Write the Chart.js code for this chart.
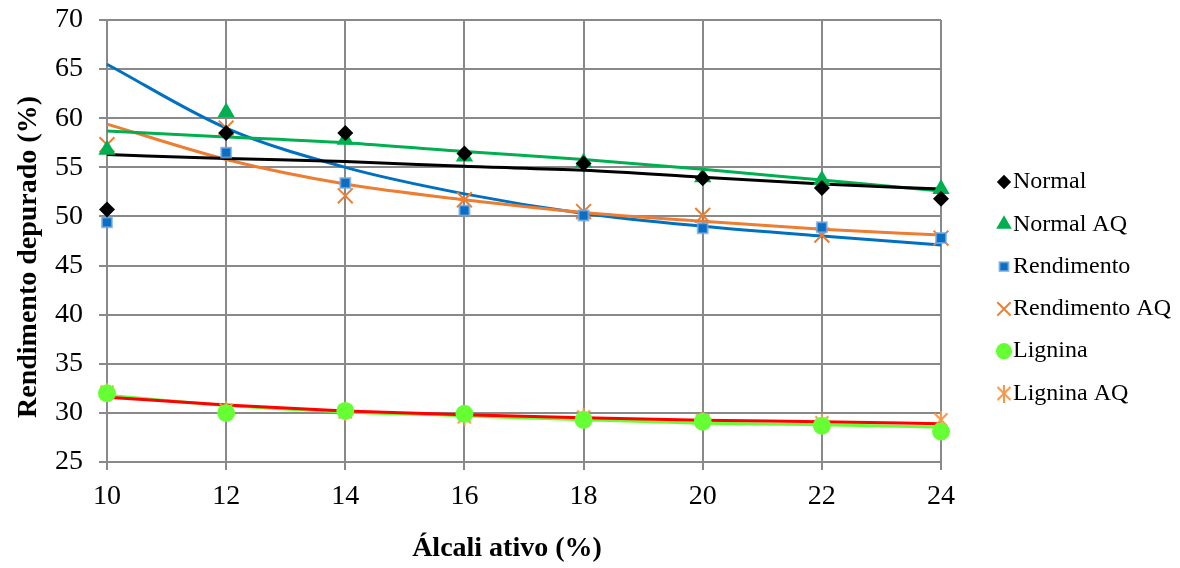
<!DOCTYPE html>
<html>
<head>
<meta charset="utf-8">
<script src="https://cdn.jsdelivr.net/npm/chart.js@4.4.0/dist/chart.umd.min.js"></script>
<style>
  html, body { margin: 0; padding: 0; background: #fff; }
</style>
</head>
<body>
<canvas id="rendChart" width="1180" height="568"></canvas>
<script>
// Álcali ativo (%) on the x axis
var alcali = [10, 12, 14, 16, 18, 20, 22, 24];

// measured points
var normal        = [50.7, 58.5, 58.5, 56.4, 55.4, 53.9, 52.9, 51.8];
var normalAQ      = [56.8, 60.6, 57.8, 56.1, 55.5, 54.0, 53.7, 52.8];
var rendimento    = [49.4, 56.5, 53.4, 50.6, 50.1, 48.8, 48.9, 47.8];
var rendimentoAQ  = [57.3, 59.0, 52.1, 51.7, 50.5, 50.1, 48.1, 47.8];
var lignina       = [32.0, 30.0, 30.2, 29.9, 29.3, 29.1, 28.7, 28.1];
var ligninaAQ     = [32.1, 30.3, 30.1, 29.6, 29.6, 29.2, 29.0, 29.3];

// trend lines, value at each x
var trendNormal       = [56.3, 55.9, 55.6, 55.1, 54.7, 54.0, 53.3, 52.8];
var trendNormalAQ     = [58.7, 58.1, 57.5, 56.6, 55.8, 54.8, 53.7, 52.6];
var trendRendimento   = [65.5, 59.0, 55.0, 52.3, 50.3, 49.0, 48.0, 47.1];
var trendRendimentoAQ = [59.4, 55.8, 53.3, 51.7, 50.4, 49.5, 48.7, 48.1];
var trendLignina      = [31.8, 30.75, 30.1, 29.7, 29.3, 28.95, 28.8, 28.55];
var trendLigninaAQ    = [31.6, 30.8, 30.2, 29.8, 29.5, 29.25, 29.1, 28.9];

var yTicks = { min: 25, max: 70, step: 5 };
var xTicks = { min: 10, max: 24, step: 2 };

var serif = "'Liberation Serif', 'Times New Roman', serif";
var gridColor = '#898989';

function pts(ys) {
  return alcali.map(function(x, i) { return { x: x, y: ys[i] }; });
}

// asterisk marker (X plus a vertical bar)
function asterisk(color) {
  var c = document.createElement('canvas');
  c.width = 18; c.height = 18;
  var g = c.getContext('2d');
  g.strokeStyle = color;
  g.lineWidth = 2;
  g.beginPath();
  g.moveTo(9, 0); g.lineTo(9, 18);
  g.moveTo(2.5, 2.5); g.lineTo(15.5, 15.5);
  g.moveTo(15.5, 2.5); g.lineTo(2.5, 15.5);
  g.stroke();
  return c;
}

function markers(label, ys, style, fill, stroke, radius, bw) {
  return {
    label: label,
    data: pts(ys),
    showLine: false,
    pointStyle: style,
    pointRadius: radius,
    pointHoverRadius: radius,
    pointBackgroundColor: fill,
    pointBorderColor: stroke,
    pointBorderWidth: bw,
    backgroundColor: fill,
    borderColor: stroke,
    clip: false,
    order: 0
  };
}

function trend(ys, color) {
  return {
    trend: true,
    data: pts(ys),
    showLine: true,
    borderColor: color,
    borderWidth: 3,
    pointRadius: 0,
    cubicInterpolationMode: 'monotone',
    clip: false,
    order: 1
  };
}

var datasets = [
  markers('Normal', normal, 'rectRot', '#000000', '#000000', 8, 0),
  markers('Normal AQ', normalAQ, 'triangle', '#00b050', '#00b050', 10, 0),
  markers('Rendimento', rendimento, 'rect', '#0a6fc2', 'rgba(120,170,225,0.75)', 7, 2),
  markers('Rendimento AQ', rendimentoAQ, 'crossRot', '#ed7d31', '#ed7d31', 10.5, 2),
  markers('Lignina', lignina, 'circle', '#66ff33', '#66ff33', 9, 0),
  markers('Lignina AQ', ligninaAQ, asterisk('#f79646'), '#f79646', '#f79646', 9, 0),
  trend(trendLigninaAQ, '#ff0000'),
  trend(trendLignina, '#66ff33'),
  trend(trendNormal, '#000000'),
  trend(trendNormalAQ, '#00b050'),
  trend(trendRendimentoAQ, '#ed7d31'),
  trend(trendRendimento, '#0070c0')
];

// legend on the right, drawn by hand
var sideLegend = {
  id: 'sideLegend',
  afterDraw: function(chart) {
    var ctx = chart.ctx;
    var y = 182;
    ctx.save();
    ctx.font = '24px ' + serif;
    ctx.textBaseline = 'middle';
    ctx.textAlign = 'left';
    chart.data.datasets.forEach(function(ds) {
      if (ds.trend) return;
      ctx.fillStyle = ds.pointBackgroundColor;
      ctx.strokeStyle = ds.pointBorderColor;
      ctx.lineWidth = ds.pointBorderWidth || 2;
      Chart.helpers.drawPoint(ctx, {
        pointStyle: ds.pointStyle,
        radius: ds.pointRadius * 0.9,
        borderWidth: ds.pointStyle === 'crossRot' ? 2 : ds.pointBorderWidth,
        rotation: 0
      }, 1004, y);
      ctx.fillStyle = '#000';
      ctx.fillText(ds.label, 1013, y);
      y += 42.3;
    });
    ctx.restore();
  }
};

// bold axis titles
var axisTitles = {
  id: 'axisTitles',
  afterDraw: function(chart) {
    var ctx = chart.ctx;
    ctx.save();
    ctx.font = 'bold 28px ' + serif;
    ctx.fillStyle = '#000';
    ctx.textAlign = 'center';
    ctx.textBaseline = 'middle';
    ctx.fillText('Álcali ativo (%)', 507, 549);
    ctx.translate(29, 257);
    ctx.rotate(-Math.PI / 2);
    ctx.fillText('Rendimento depurado (%)', 0, 0);
    ctx.restore();
  }
};

new Chart(document.getElementById('rendChart'), {
  type: 'scatter',
  data: { datasets: datasets },
  plugins: [sideLegend, axisTitles],
  options: {
    responsive: false,
    animation: false,
    layout: { padding: { left: 0, right: 239, top: 20, bottom: 0 } },
    plugins: {
      legend: { display: false },
      tooltip: { enabled: false }
    },
    scales: {
      x: {
        type: 'linear',
        min: xTicks.min,
        max: xTicks.max,
        ticks: { stepSize: xTicks.step, color: '#000', padding: 10, font: { family: serif, size: 28 } },
        grid: { color: gridColor, lineWidth: 2, tickLength: 8, tickColor: gridColor },
        border: { color: gridColor, width: 2 },
        afterFit: function(s) { s.height = 106; s.paddingLeft = 0; s.paddingRight = 0; }
      },
      y: {
        min: yTicks.min,
        max: yTicks.max,
        ticks: { stepSize: yTicks.step, color: '#000', padding: 16, font: { family: serif, size: 28 } },
        grid: { color: gridColor, lineWidth: 2, tickLength: 8, tickColor: gridColor },
        border: { color: gridColor, width: 2 },
        afterFit: function(s) { s.width = 107; s.paddingTop = 0; s.paddingBottom = 0; }
      }
    }
  }
});
</script>
</body>
</html>
